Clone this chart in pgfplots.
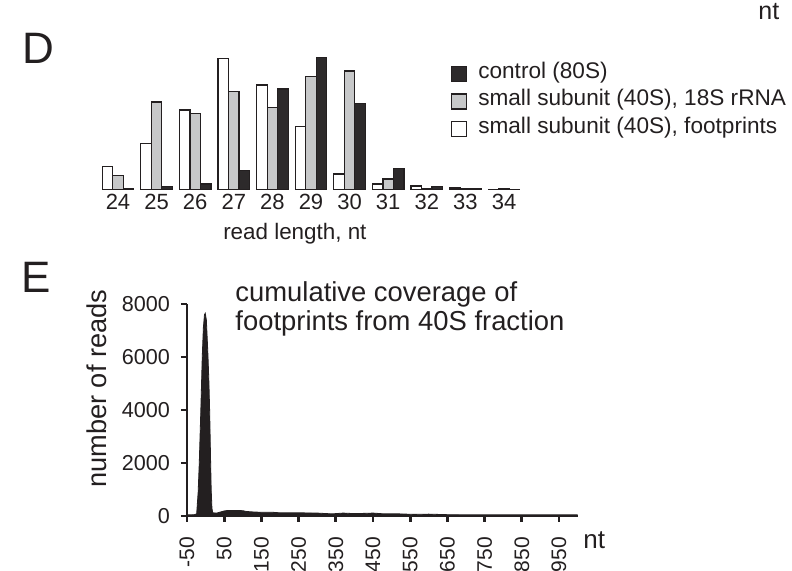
\documentclass[border=0pt]{standalone}
\usepackage{fontspec}
\setmainfont{Liberation Sans}
\usepackage{pgfplots}
\pgfplotsset{compat=1.18}
\definecolor{ink}{RGB}{35,31,32}
\definecolor{barblack}{RGB}{45,42,43}
\definecolor{bargray}{RGB}{199,200,201}
\pgfplotsset{sqleg/.style={legend image code/.code={\draw[##1,line width=0.7pt] (0pt,-4.9pt) rectangle (7.5pt,2.6pt);}}}
\begin{document}
\begin{tikzpicture}
\path[use as bounding box] (0,0) rectangle (396pt,285.5pt);
\node[anchor=base west, inner sep=0pt, font=\fontsize{22}{22}\selectfont, text=ink] at (10.85pt,253.85pt) {D};
\node[anchor=base west, inner sep=0pt, font=\fontsize{22}{22}\selectfont, text=ink] at (10.35pt,139.15pt) {E};
\node[anchor=base west, inner sep=0pt, font=\fontsize{12.5}{12.5}\selectfont, text=ink] at (379pt,275.5pt) {nt};

\begin{axis}[
  at={(49.35pt,190.5pt)}, anchor=south west,
  scale only axis, width=212.3pt, height=66.5pt,
  xmin=23.5, xmax=34.5, ymin=0, ymax=133,
  axis x line*=bottom, axis y line=none,
  x axis line style={draw=none},
  xtick={24,25,...,34}, major tick length=0pt,
  /pgf/number format/assume math mode=true,
  xticklabel style={font=\fontsize{11}{11}\selectfont, text=ink, inner sep=0pt, yshift=-1.75pt},
  xlabel={read length, nt},
  xlabel style={at={(rel axis cs:0.462,0)}, anchor=north, inner sep=0pt, yshift=-16.5pt, font=\fontsize{11.2}{11.2}\selectfont, text=ink},
  ybar=0pt, bar width=0.272,
  every axis plot post/.append style={sqleg},
  reverse legend, legend cell align=left,
  legend style={at={(rel axis cs:0.829,0.995)}, anchor=north west, draw=none, fill=none, inner sep=0pt, row sep=0pt,
    font=\fontsize{11.3}{11.3}\selectfont, text=ink,
    /tikz/every odd column/.append style={column sep=3.4pt}},
]
\addplot[fill=white, draw=ink, line width=0.6pt, bar shift=-0.272] coordinates {
(24,23.3) (25,46.3) (26,80) (27,131.7) (28,105) (29,63.3) (30,16) (31,6) (32,4) (33,2) (34,0.7)};
\addlegendentry{small subunit (40S), footprints}
\addplot[fill=bargray, draw=ink, line width=0.6pt, bar shift=0] coordinates {
(24,14.7) (25,88) (26,76.7) (27,98.7) (28,82.7) (29,113.7) (30,119) (31,11) (32,1.3) (33,1.7) (34,1.3)};
\addlegendentry{small subunit (40S), 18S rRNA}
\addplot[fill=barblack, draw=ink, line width=0.6pt, bar shift=0.272] coordinates {
(24,1.7) (25,3.3) (26,6) (27,19.3) (28,101) (29,132.7) (30,86.7) (31,21.3) (32,3.7) (33,1) (34,0.7)};
\addlegendentry{control (80S)}
\end{axis}

\begin{axis}[
  at={(93.5pt,27.5pt)}, anchor=south west,
  scale only axis, width=195.3pt, height=106pt,
  xmin=-50, xmax=1000, ymin=0, ymax=8000,
  axis x line*=bottom, axis y line*=left,
  axis line style={line width=1.4pt, ink},
  xtick={-50,50,...,950}, ytick={0,2000,...,8000},
  tick align=outside, major tick length=3pt,
  tick style={line width=1.4pt, ink},
  scaled ticks=false,
  /pgf/number format/1000 sep={},
  /pgf/number format/assume math mode=true,
  xticklabel style={font=\fontsize{10.5}{10.5}\selectfont, text=ink, inner sep=0pt, yshift=-7.35pt, rotate=90, anchor=east},
  yticklabel style={font=\fontsize{10.8}{10.8}\selectfont, text=ink, inner sep=0pt, anchor=east, xshift=-5.3pt},
  title={cumulative coverage of\\footprints from 40S fraction},
  title style={at={(axis description cs:0.123,1.05)}, anchor=north west, align=left, inner sep=0pt, font=\fontsize{13.7}{14.2}\selectfont, text=ink},
  xlabel={nt},
  xlabel style={at={(axis description cs:1.014,-0.152)}, anchor=base west, inner sep=0pt, font=\fontsize{13}{13}\selectfont, text=ink},
  ylabel={number of reads},
  ylabel style={at={(axis description cs:-0.232,0.6)}, anchor=center, inner sep=0pt, font=\fontsize{13.6}{13.6}\selectfont, text=ink},
]
\addplot[fill=ink, draw=ink, line width=0.4pt] coordinates {
(-50,40) (-30,50) (-24,80) (-20,900) (-17,2000) (-13,3900) (-9,6000) (-6,7100) (-3,7600) (-1,7650)
(2,7400) (4,6800) (6.5,6000) (9,5000) (11,3900) (13,2400) (15,1000) (17,300) (19,120)
(30,110) (40,150) (50,190) (60,210) (80,210) (100,200) (110,170) (130,150) (150,140) (180,140)
(200,120) (250,120) (300,110) (340,80) (370,110) (400,90) (430,100) (450,110) (480,80) (520,80)
(560,60) (600,70) (650,50) (700,45) (750,45) (800,45) (850,45) (900,45) (950,45) (1000,45)} \closedcycle;
\end{axis}
\end{tikzpicture}
\end{document}
